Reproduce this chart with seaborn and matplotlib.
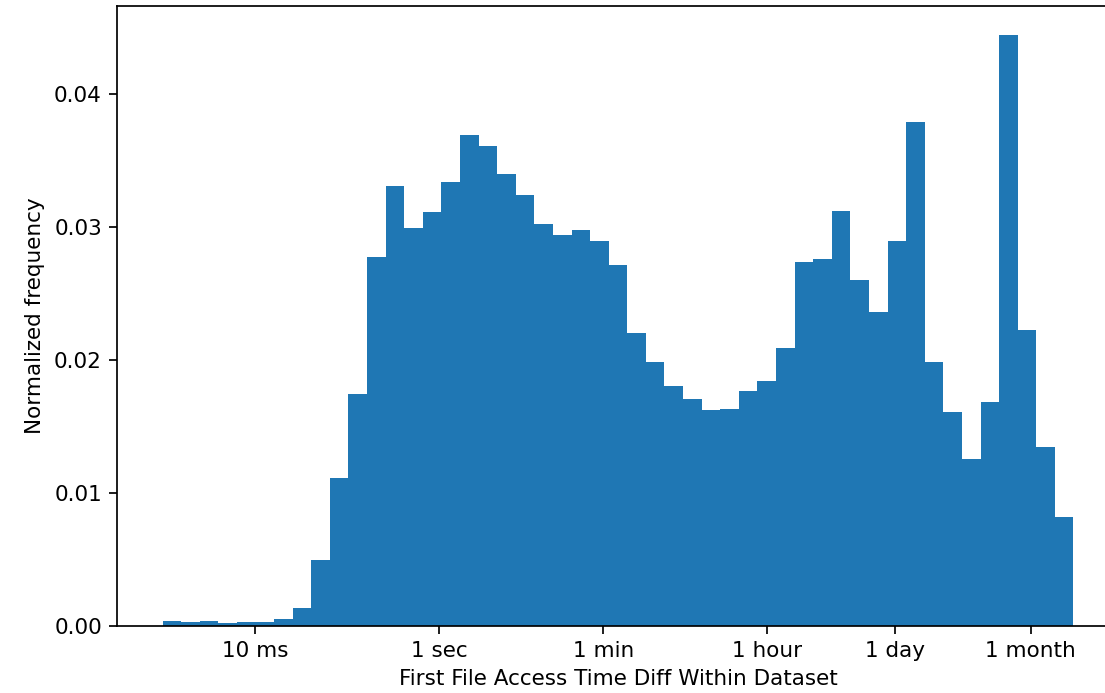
import numpy as np
import matplotlib
matplotlib.use("Agg")
import matplotlib.pyplot as plt
import seaborn as sns

# Histogram of time differences (log10 seconds bins)
LOG_MIN = -3.0
LOG_MAX = 6.876
N_BINS = 49

bin_heights = [
    0.00034, 0.00024, 0.00032, 0.00022, 0.00028, 0.00028, 0.00047, 0.00129,
    0.00492, 0.01109, 0.01741, 0.02773, 0.03305, 0.02994, 0.03111, 0.03342,
    0.03693, 0.03608, 0.03402, 0.03244, 0.03024, 0.02941, 0.02976, 0.02893,
    0.02711, 0.02202, 0.01984, 0.01801, 0.01706, 0.01620, 0.01630, 0.01765,
    0.01838, 0.02092, 0.02735, 0.02758, 0.03124, 0.02603, 0.02362, 0.02893,
    0.03788, 0.01984, 0.01608, 0.01256, 0.01680, 0.04445, 0.02227, 0.01340,
    0.00818,
]

tick_values = [0.01, 1, 60, 3600, 86400, 30 * 86400]
tick_labels = ["10 ms", "1 sec", "1 min", "1 hour", "1 day", "1 month"]

log_edges = np.linspace(LOG_MIN, LOG_MAX, N_BINS + 1)
log_centers = (log_edges[:-1] + log_edges[1:]) / 2
centers = 10 ** log_centers

DPI = 155
fig = plt.figure(figsize=(1105 / DPI, 693 / DPI), dpi=DPI)
ax = fig.add_axes([117 / 1105, 1 - 625.5 / 693, (1119 - 117) / 1105, (625.5 - 5.5) / 693])

sns.histplot(
    x=centers, weights=bin_heights, bins=N_BINS, binrange=(LOG_MIN, LOG_MAX),
    log_scale=True, stat="count", color="#1f77b4", alpha=1.0,
    edgecolor="none", linewidth=0, ax=ax,
)

ax.set_xticks(tick_values)
ax.set_xticklabels(tick_labels)
ax.xaxis.set_minor_locator(matplotlib.ticker.NullLocator())
ax.set_yticks([0.0, 0.01, 0.02, 0.03, 0.04])
ax.set_yticklabels(["0.00", "0.01", "0.02", "0.03", "0.04"])
ax.set_xlabel("First File Access Time Diff Within Dataset")
ax.set_ylabel("Normalized frequency")
ax.spines["right"].set_visible(False)

fig.savefig("out.png", dpi=DPI, bbox_inches=None)
